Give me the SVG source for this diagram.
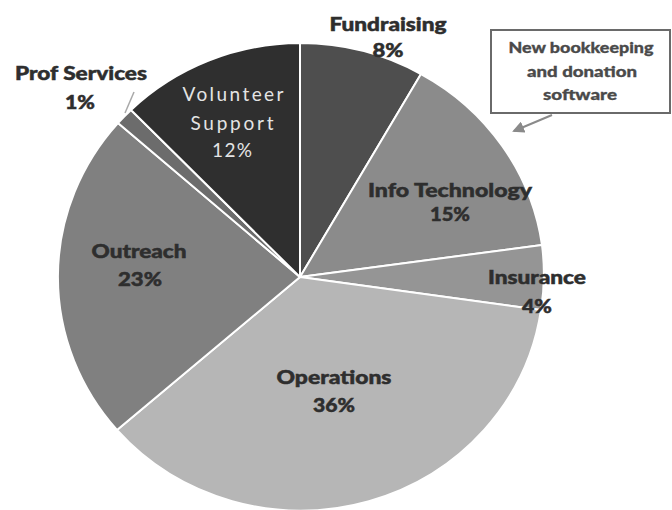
<svg xmlns="http://www.w3.org/2000/svg" width="672" height="510" viewBox="0 0 672 510">
<style>
.sl{stroke:#ffffff;stroke-width:2;stroke-linejoin:round}
.lb{font-family:Lato,"Liberation Sans",sans-serif;font-weight:900;font-size:19px;fill:#2e2e2e;stroke:#2e2e2e;stroke-width:0.5;text-anchor:middle}
.vs{font-family:Lato,"Open Sans",sans-serif;font-size:19px;fill:#e4e4e4;text-anchor:middle}
.co{font-family:Lato,"Liberation Sans",sans-serif;font-weight:900;font-size:15px;fill:#4a4a4a;stroke:#4a4a4a;stroke-width:0.3;text-anchor:middle}
</style>
<defs>
<marker id="ah" markerWidth="12" markerHeight="12" refX="10" refY="6" orient="auto" markerUnits="userSpaceOnUse">
<path d="M0,0 L12,6 L0,12 Z" fill="#8a8a8a"/>
</marker>
</defs>
<rect width="672" height="510" fill="#ffffff"/>
<g id="slices">
<g id="fundraising"><path class="sl" fill="#4e4e4e" d="M300,277 L300,43 A243,234 0 0,1 421,74 Z"/></g>
<g id="info-technology"><path class="sl" fill="#8b8b8b" d="M300,277 L421,74 A243,234 0 0,1 542,245 Z"/></g>
<g id="insurance"><path class="sl" fill="#959595" d="M300,277 L542,245 A243,234 0 0,1 541,310 Z"/></g>
<g id="operations"><path class="sl" fill="#b6b6b6" d="M300,277 L541,310 A243,234 0 0,1 117,430 Z"/></g>
<g id="outreach"><path class="sl" fill="#808080" d="M300,277 L117,430 A243,234 0 0,1 118,123 Z"/></g>
<g id="prof-services"><path class="sl" fill="#6c6c6c" d="M300,277 L118,123 A243,234 0 0,1 131,110 Z"/></g>
<g id="volunteer-support"><path class="sl" fill="#2f2f2f" d="M300,277 L131,110 A243,234 0 0,1 300,43 Z"/></g>
</g>
<g id="labels">
<text class="lb" x="388" y="31" textLength="117" lengthAdjust="spacingAndGlyphs">Fundraising</text>
<text class="lb" x="388" y="57" textLength="31" lengthAdjust="spacingAndGlyphs">8%</text>
<text class="lb" x="81" y="80" textLength="132" lengthAdjust="spacingAndGlyphs">Prof Services</text>
<text class="lb" x="80" y="109" textLength="30" lengthAdjust="spacingAndGlyphs">1%</text>
<text class="vs" x="233" y="101" textLength="101" lengthAdjust="spacing">Volunteer</text>
<text class="vs" x="232" y="130" textLength="83" lengthAdjust="spacing">Support</text>
<text class="vs" x="232" y="157" textLength="40" lengthAdjust="spacing">12%</text>
<text class="lb" x="450" y="197" textLength="164" lengthAdjust="spacingAndGlyphs">Info Technology</text>
<text class="lb" x="450" y="221" textLength="40" lengthAdjust="spacingAndGlyphs">15%</text>
<text class="lb" x="537" y="284" textLength="98" lengthAdjust="spacingAndGlyphs">Insurance</text>
<text class="lb" x="537" y="313" textLength="30" lengthAdjust="spacingAndGlyphs">4%</text>
<text class="lb" x="334" y="384" textLength="115" lengthAdjust="spacingAndGlyphs">Operations</text>
<text class="lb" x="334" y="412" textLength="42" lengthAdjust="spacingAndGlyphs">36%</text>
<text class="lb" x="139" y="258" textLength="95" lengthAdjust="spacingAndGlyphs">Outreach</text>
<text class="lb" x="140" y="286" textLength="44" lengthAdjust="spacingAndGlyphs">23%</text>
</g>
<g id="connectors">
<line x1="134" y1="92" x2="125" y2="113" stroke="#a8a8a8" stroke-width="1.5"/>
<line x1="552" y1="115" x2="514" y2="131" stroke="#8a8a8a" stroke-width="2" marker-end="url(#ah)"/>
</g>
<g id="callout">
<rect x="491" y="30" width="179" height="83" fill="#ffffff" stroke="#6a6a6a" stroke-width="2"/>
<text class="co" x="581" y="53" textLength="145" lengthAdjust="spacingAndGlyphs">New bookkeeping</text>
<text class="co" x="582" y="77" textLength="110" lengthAdjust="spacingAndGlyphs">and donation</text>
<text class="co" x="580" y="100" textLength="74" lengthAdjust="spacingAndGlyphs">software</text>
</g>
</svg>
